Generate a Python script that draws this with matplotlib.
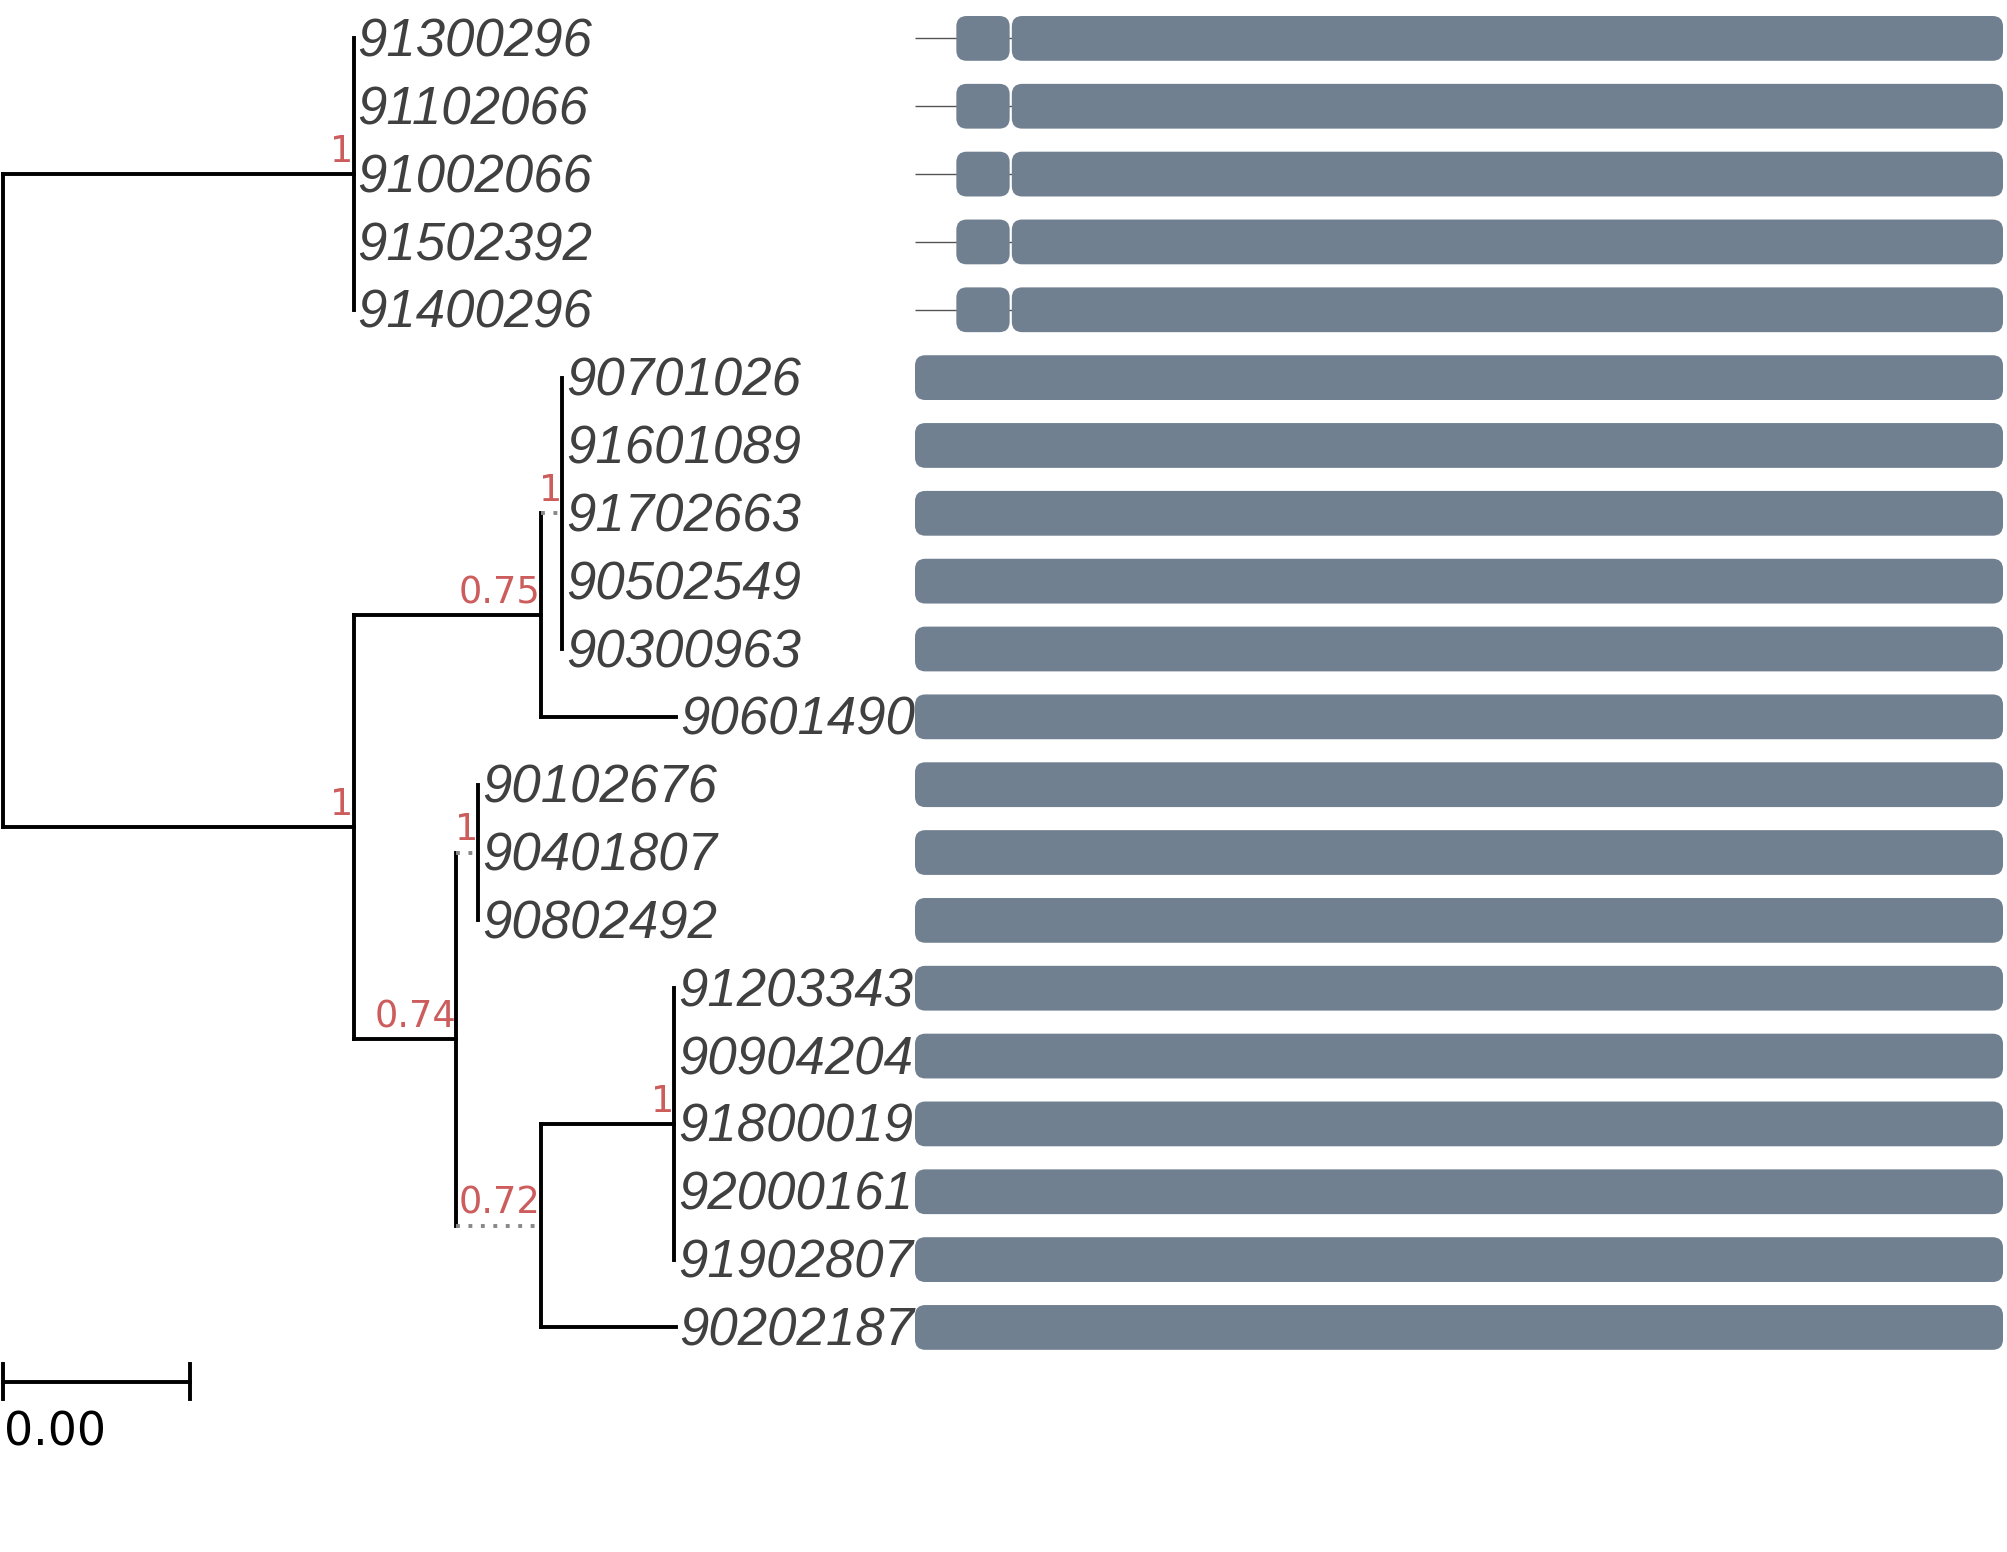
import matplotlib
matplotlib.use("Agg")
import matplotlib.pyplot as plt
from matplotlib.patches import FancyBboxPatch

# --- tree (newick, support values on internal nodes) ---
TREE = ("((91300296:0,91102066:0,91002066:0,91502392:0,91400296:0)1:0.0075,"
        "(((90701026:0,91601089:0,91702663:0,90502549:0,90300963:0)1:0.00046,"
        "90601490:0.0029)0.75:0.004,"
        "((90102676:0,90401807:0,90802492:0)1:0.00046,"
        "((91203343:0,90904204:0,91800019:0,92000161:0,91902807:0)1:0.00286,"
        "90202187:0.00289)0.72:0.0018)0.74:0.0022)1:0.0075);")

# stems drawn dotted, clade given by (first tip, last tip)
DOTTED = [("90701026", "90300963"), ("90102676", "90802492"),
          ("91203343", "90202187")]

SCALE_BAR = 0.004

# --- domain track (same order as tips) ---
SEQ_LEN = 1000
SHORT_GROUP = ["91300296", "91102066", "91002066", "91502392", "91400296"]
SHORT_DOMAINS = [(38, 87), (89, 1000)]
FULL_DOMAINS = [(0, 1000)]

BAR_COLOR = "#708090"
LABEL_COLOR = "#404040"
SUPPORT_COLOR = "#cd5c5c"


def parse(s):
    pos = 0

    def node():
        nonlocal pos
        n = {"children": [], "name": "", "length": 0.0, "support": ""}
        if s[pos] == "(":
            pos += 1
            while True:
                n["children"].append(node())
                if s[pos] == ",":
                    pos += 1
                    continue
                pos += 1  # ')'
                break
        tok = ""
        while s[pos] not in ",():;":
            tok += s[pos]
            pos += 1
        if n["children"]:
            n["support"] = tok
        else:
            n["name"] = tok
        if s[pos] == ":":
            pos += 1
            ln = ""
            while s[pos] not in ",();":
                ln += s[pos]
                pos += 1
            n["length"] = float(ln)
        return n

    return node()


root = parse(TREE)
tips = []


def layout(n, x0):
    n["x"] = x0 + n["length"]
    if not n["children"]:
        n["y"] = len(tips)
        tips.append(n)
    else:
        for c in n["children"]:
            layout(c, n["x"])
        n["y"] = (n["children"][0]["y"] + n["children"][-1]["y"]) / 2
    return n


layout(root, 0.0)


def tip_span(n):
    f = n
    while f["children"]:
        f = f["children"][0]
    l = n
    while l["children"]:
        l = l["children"][-1]
    return (f["name"], l["name"])


W, H, DPI = 2007, 1552, 100
fig = plt.figure(figsize=(W / DPI, H / DPI), dpi=DPI)

split = 915 / W
ylim = (22.31, -0.566)

ax = fig.add_axes([0, 0, split, 1])
ax.set_xlim(-0.000055, 0.0195)
ax.set_ylim(*ylim)
ax.axis("off")

lw = 2.8


def draw(n, parent=None):
    if parent is not None:
        dotted = tip_span(n) in DOTTED and n["children"]
        ax.plot([parent["x"], n["x"]], [n["y"], n["y"]],
                color="#888888" if dotted else "black",
                ls=(0, (1, 2.2)) if dotted else "-", lw=lw,
                solid_capstyle="projecting")
    if n["children"]:
        ax.plot([n["x"], n["x"]], [n["children"][0]["y"], n["children"][-1]["y"]],
                color="black", lw=lw, solid_capstyle="projecting")
        if n["support"]:
            ax.text(n["x"], n["y"] - 0.06, n["support"], ha="right", va="bottom",
                    color=SUPPORT_COLOR, fontsize=26.5, family="DejaVu Sans")
        for c in n["children"]:
            draw(c, n)
    else:
        ax.text(n["x"] + 0.00008, n["y"] + 0.06, n["name"], ha="left", va="center",
                fontsize=38, style="italic", color=LABEL_COLOR,
                family="Liberation Sans", clip_on=False)


draw(root)

# scale bar
sb_y = 19.8
ax.plot([0, SCALE_BAR], [sb_y, sb_y], color="black", lw=lw)
for xx in (0, SCALE_BAR):
    ax.plot([xx, xx], [sb_y - 0.26, sb_y + 0.26], color="black", lw=lw)
ax.text(0.00004, sb_y + 0.42, f"{SCALE_BAR:.2f}", ha="left", va="top",
        fontsize=33, family="DejaVu Sans", color="black")

# domain panel
bx = fig.add_axes([split, 0, 1 - split, 1])
px_per_unit = (2003 - 915) / SEQ_LEN
bx.set_xlim(0, (W - 915) / px_per_unit)
bx.set_ylim(*ylim)
bx.axis("off")
row_px = H / (ylim[0] - ylim[1])
aspect = px_per_unit / row_px
bar_h = 0.66
radius = 9.5

for t in tips:
    y = t["y"]
    if t["name"] in SHORT_GROUP:
        doms = SHORT_DOMAINS
        bx.plot([0, SEQ_LEN - 10], [y, y], color="#555555", lw=1.0, zorder=1,
                solid_capstyle="butt")
    else:
        doms = FULL_DOMAINS
    for s, e in doms:
        p = FancyBboxPatch((s, y - bar_h / 2), e - s, bar_h,
                           boxstyle=f"round,pad=0,rounding_size={radius}",
                           mutation_aspect=aspect, fc=BAR_COLOR, ec="none",
                           zorder=2)
        bx.add_patch(p)

fig.savefig("out.png", dpi=DPI)
